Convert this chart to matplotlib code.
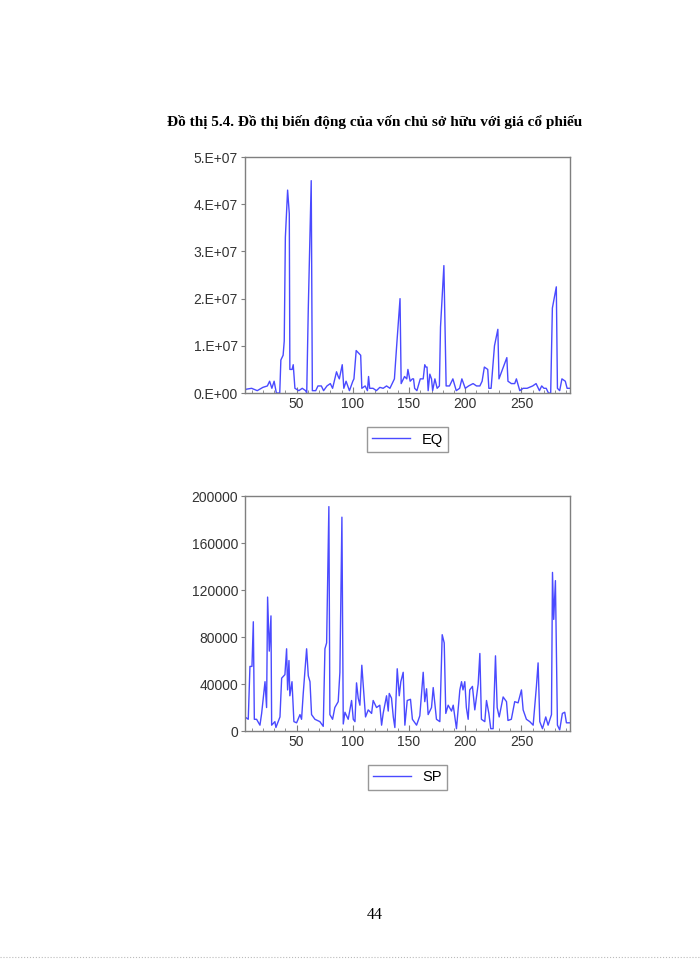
import matplotlib
matplotlib.use("Agg")
import matplotlib.pyplot as plt
from matplotlib.ticker import MultipleLocator

# EQ series: observation index and value (units of 1e7)
eq_obs = [4.1, 5, 10, 15, 20, 24, 26, 28, 30, 32, 35, 36, 38, 39, 40, 42, 43.5, 44, 46, 47, 48.5,
          52, 55, 58, 59, 60.4, 63, 64, 67, 69, 72, 74, 77, 80, 82, 85.5, 87, 88, 90.6, 92, 94,
          97, 100, 101, 103, 105, 107, 108, 111, 113, 114, 115, 118, 121, 124, 127, 130, 133,
          135, 137, 139, 142, 143, 145, 146, 148, 149, 151, 153, 154, 155, 157, 160, 162.6, 164,
          165, 166, 167, 168.5, 170, 171, 173, 175, 177, 178, 181, 183, 186, 189, 192, 195, 197,
          200, 203, 207, 210, 213, 215, 217, 220, 221, 223, 226, 229, 230, 237, 238, 241, 244,
          245.5, 248.5, 251.5, 255, 260, 263, 266, 268, 270, 272, 274, 276, 277.5, 281, 282,
          284, 286, 289, 290.6, 293]
eq_val = [.05, .08, .1, .05, .12, .15, .25, .1, .25, 0, 0, .7, .8, 1.1, 3.3, 4.3, 3.8, .5, .5, .6, .1,
          .05, .1, .05, 0, 1.8, 4.5, .05, .05, .15, .15, .05, .15, .2, .1, .45, .35, .3, .6, .1, .25,
          .05, .25, .3, .9, .85, .8, .1, .15, .05, .35, .1, .1, .05, .12, .1, .15, .1,
          .2, .3, 1.0, 2.0, .2, .3, .35, .3, .5, .25, .3, .3, .1, .05, .3, .3, .6,
          .55, .55, .05, .4, .3, .05, .3, .1, .15, 1.4, 2.7, .15, .15, .3, .05, .1, .3,
          .1, .15, .2, .15, .15, .25, .55, .5, .1, .1, 1.0, 1.35, .3, .75, .25, .2, .2,
          .3, .05, .1, .1, .15, .2, .05, .15, .1, .1, 0, 0, 1.8, 2.25, .1,
          .05, .3, .25, .1, .1]

# SP series: observation index and value (thousands)
sp_obs = [4.1, 7, 8.5, 10.3, 11.5, 12.4, 14.4, 17.4, 18.9, 21.9, 23.3, 24.2, 25.7, 27.2, 27.8, 30.7,
          31.6, 35.2, 36.7, 39.6, 41.1, 42, 43.2, 44, 45.9, 47.6, 50, 53, 54.4, 55.9, 58.9, 60.4,
          61.9, 63.3, 66.3, 70.7, 73.7, 75.2, 76.7, 78.7, 79.6, 82, 84, 87, 88.5, 90.3, 91.5, 93,
          95.9, 98.9, 100.4, 101.9, 103.3, 104.8, 106.3, 108, 110, 111.3, 113.7, 116.7, 118.1,
          121.1, 124, 125.6, 127, 130, 131.5, 132.4, 134.4, 136, 137.4, 139.5, 141.3, 142.7,
          144.8, 146.3, 148.4, 151.3, 153, 156.7, 159.6, 162.6, 164, 165.6, 167, 170, 171.5,
          174.4, 177.4, 179.5, 181.3, 182.7, 184.8, 187.8, 189.3, 192.2, 195.2, 196.7, 198,
          199.6, 201, 202.6, 204, 206.4, 208.5, 211.5, 213, 214.4, 217.4, 218.9, 221, 222.7,
          224.8, 226.9, 228.4, 230.2, 233.7, 236.7, 238, 241, 244, 247, 250, 251.5, 254.4,
          257.4, 260.4, 263.3, 264.8, 266.3, 268.7, 271.6, 273.7, 276.7, 277.6, 278.7, 280.2,
          282, 284, 286.4, 288.5, 290, 293]
sp_val = [12, 10, 55, 55, 93, 10, 10, 5, 15, 42, 20, 114, 68, 98, 5, 8,
          3, 12, 45, 48, 70, 35, 60, 30, 42, 8, 7, 14, 10, 32, 70, 47,
          42, 14, 10, 8, 4, 70, 75, 191, 14, 10, 20, 25, 50, 182, 6, 16,
          10, 26, 10, 8, 41, 28, 22, 56, 30, 12, 18, 15, 26,
          20, 22, 5, 15, 30, 17, 32, 28, 12, 3, 53, 30, 42,
          50, 5, 26, 27, 10, 5, 13, 50, 25, 36, 14, 20, 37,
          10, 8, 82, 75, 15, 22, 17, 22, 2, 35, 42, 35,
          42, 20, 10, 35, 38, 18, 40, 66, 10, 8, 26, 15, 2,
          2, 64, 20, 12, 29, 25, 9, 10, 25, 24, 35, 18, 10,
          8, 5, 38, 58, 8, 2, 12, 5, 14, 135, 95, 128,
          5, 1, 15, 16, 7, 7]

eq_ticks = [0, 1, 2, 3, 4, 5]
eq_labels = ["0.E+00", "1.E+07", "2.E+07", "3.E+07", "4.E+07", "5.E+07"]
sp_ticks = [0, 40, 80, 120, 160, 200]
sp_labels = ["0", "40000", "80000", "120000", "160000", "200000"]
x_ticks = [50, 100, 150, 200, 250]

line_color = "#4a4aff"
frame_color = "#7f7f7f"
tick_font = ["Liberation Sans", "DejaVu Sans"]

fig = plt.figure(figsize=(7, 9.6), dpi=100)


def draw_panel(rect, xs, ys, ticks, labels, name):
    ax = fig.add_axes(rect)
    ax.plot(xs, ys, color=line_color, lw=1.0, label=name)
    ax.set_xlim(4.1, 293)
    ax.set_ylim(ticks[0], ticks[-1])
    ax.set_yticks(ticks)
    ax.set_yticklabels(labels, family=tick_font, fontsize=10, color="#333333")
    ax.set_xticks(x_ticks)
    ax.set_xticklabels([str(t) for t in x_ticks], family=tick_font, fontsize=10, color="#333333")
    ax.xaxis.set_minor_locator(MultipleLocator(10))
    ax.tick_params(axis="x", which="major", direction="in", length=4, color=frame_color, pad=3)
    ax.tick_params(axis="x", which="minor", direction="in", length=2, color=frame_color)
    ax.tick_params(axis="y", direction="out", length=3, color=frame_color, pad=2)
    for s in ax.spines.values():
        s.set_color(frame_color)
        s.set_linewidth(1.0)
    leg = ax.legend(loc="upper center", bbox_to_anchor=(0.5, -0.115), frameon=True,
                    fancybox=False, handlelength=2.6, borderpad=0.35,
                    prop={"family": tick_font, "size": 10.5})
    leg.get_frame().set_edgecolor(frame_color)
    leg.get_frame().set_linewidth(1.0)
    return ax


draw_panel([0.35, 0.5906, 0.464, 0.2458], eq_obs, eq_val, eq_ticks, eq_labels, "EQ")
draw_panel([0.35, 0.2385, 0.464, 0.2448], sp_obs, sp_val, sp_ticks, sp_labels, "SP")

fig.text(375 / 700, 1 - 122 / 960, "Đồ thị 5.4. Đồ thị biến động của vốn chủ sở hữu với giá cổ phiếu",
         ha="center", va="center", fontsize=11, fontweight="bold",
         family=["Liberation Serif", "DejaVu Serif"])
fig.text(0.535, 1 - 915 / 960, "44", ha="center", va="center", fontsize=11.5,
         family=["Liberation Serif", "DejaVu Serif"])
fig.add_artist(plt.Line2D([0.0, 1.0], [1 - 957 / 960] * 2, color="#bbbbbb", lw=0.8, ls=":"))

fig.savefig("out.png", dpi=100)
